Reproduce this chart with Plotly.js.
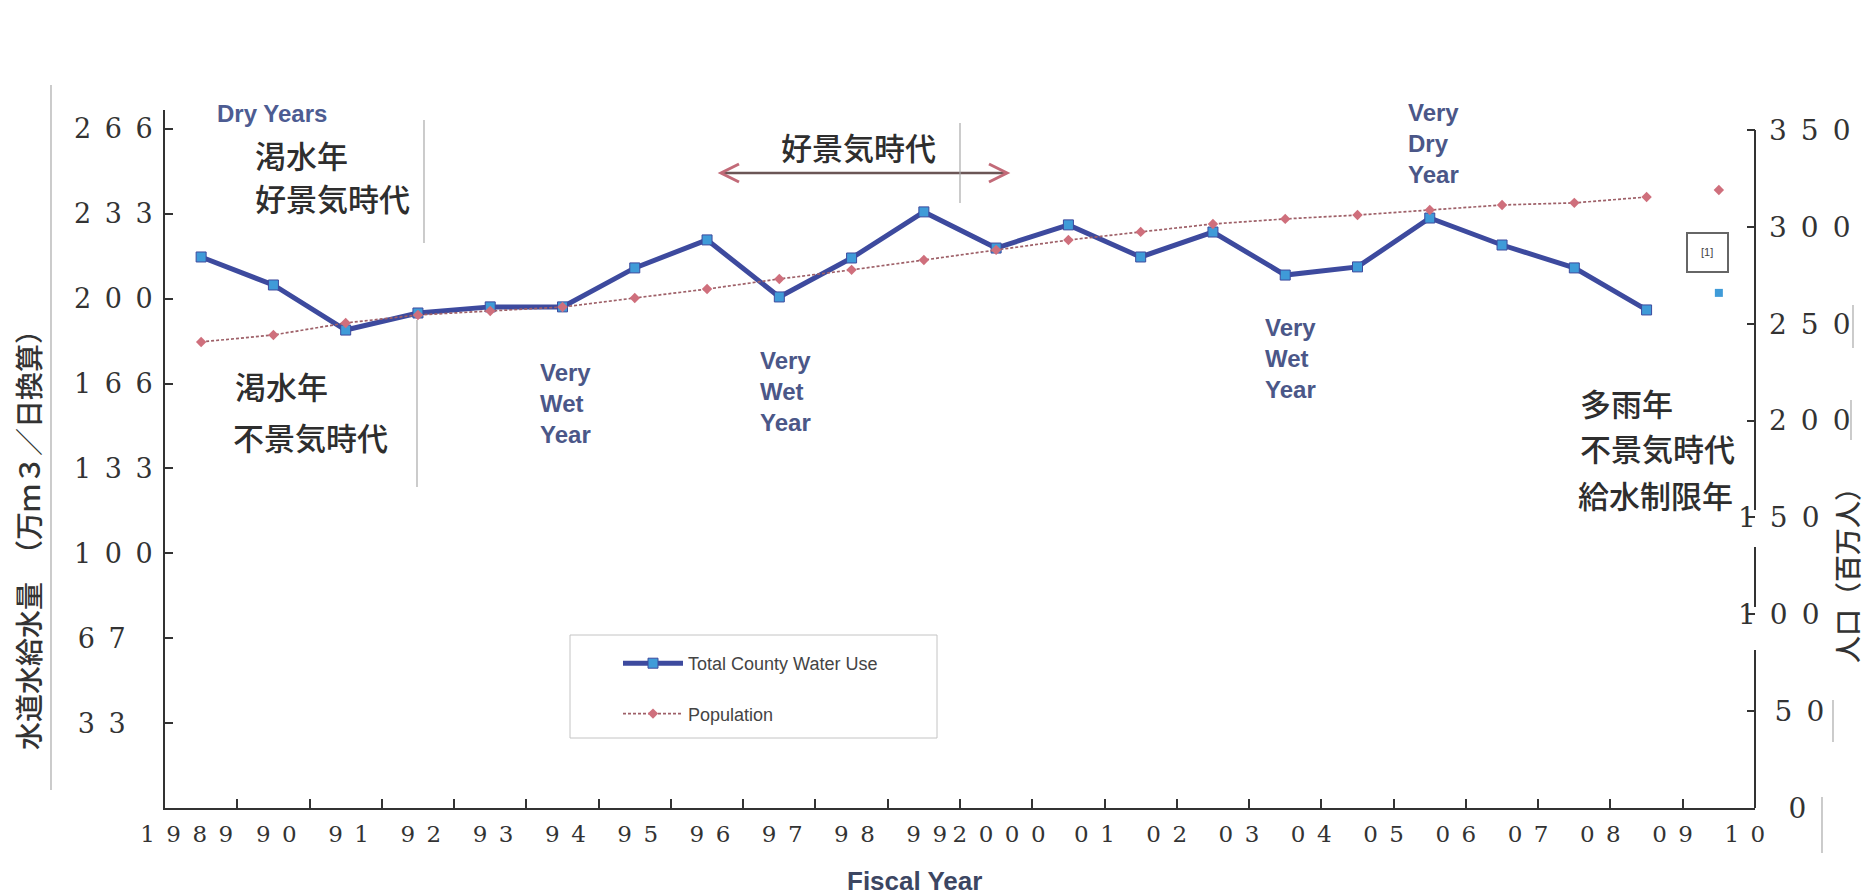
<!DOCTYPE html>
<html>
<head>
<meta charset="utf-8">
<script src="https://cdn.plot.ly/plotly-3.0.1.min.js"></script>
<style>
html,body{margin:0;padding:0;background:#ffffff;}
#chart{width:1865px;height:896px;}
</style>
</head>
<body>
<div id="chart"></div>
<script>
// ---------------- DATA ----------------
const fiscalYears = ['1989','1990','1991','1992','1993','1994','1995','1996','1997','1998','1999',
                     '2000','2001','2002','2003','2004','2005','2006','2007','2008','2009','2010'];
const E = '\u2002';
const tickLabels = ['1'+E+'9'+E+'8'+E+'9','9'+E+'0','9'+E+'1','9'+E+'2','9'+E+'3','9'+E+'4','9'+E+'5',
                    '9'+E+'6','9'+E+'7','9'+E+'8','9'+E+'9','2'+E+'0'+E+'0'+E+'0','0'+E+'1','0'+E+'2',
                    '0'+E+'3','0'+E+'4','0'+E+'5','0'+E+'6','0'+E+'7','0'+E+'8','0'+E+'9','1'+E+'0'];
// Total County Water Use, 1989-2009 (connected line), left axis
const waterUse = [216.4, 205.4, 187.7, 194.4, 196.8, 196.8, 212.1, 223.1, 200.7, 216.0, 234.1,
                  219.9, 229.0, 216.4, 226.2, 209.3, 212.5, 231.7, 221.1, 212.1, 195.6];
// Population, 1989-2009 (connected line), right axis
const population = [240.6, 244.2, 250.4, 254.5, 256.6, 258.6, 263.3, 267.9, 273.1, 277.8, 282.9,
                    288.1, 293.2, 297.4, 301.5, 304.1, 306.1, 308.7, 311.3, 312.4, 315.4];
// isolated 2010 points
const waterUse2010 = [202.3];
const population2010 = [319.0];
const leftTickValues = [33.333, 66.667, 100, 133.333, 166.667, 200, 233.333, 266.667];
const leftTickLabels = ['3'+E+'3'+E+E, '6'+E+'7'+E+E, '1'+E+'0'+E+'0', '1'+E+'3'+E+'3',
                        '1'+E+'6'+E+'6', '2'+E+'0'+E+'0', '2'+E+'3'+E+'3', '2'+E+'6'+E+'6'];
const rightTickValues = [0, 50, 100, 150, 200, 250, 300, 350];
const rightTickLabels = [E+'\u2009'+'0', '\u2009'+'5'+E+'0', '1'+E+'0'+E+'0', '1'+E+'5'+E+'0',
                         '2'+E+'0'+E+'0', '2'+E+'5'+E+'0', '3'+E+'0'+E+'0', '3'+E+'5'+E+'0'];
// right-axis labels that sit further left (over the axis line) in the original
const rightShiftedValues = [100, 150];

// ---------------- LAYOUT HELPERS ----------------
const L = 165, R = 1755, T = 110, B = 808;
const PX = x => (x - L) / (R - L);
const PY = y => (B - y) / (B - T);
const idx = fiscalYears.map((_, i) => i);
const mainIdx = idx.slice(0, waterUse.length);
const lastIdx = [idx[idx.length - 1]];
const labelPos = idx.map(i => i + (i === 0 ? -0.2 : (i >= 12 ? 0.36 : 0.04)));
const boundaries = idx.slice(0, idx.length - 1).map(i => i + 0.5);
const y2Text = rightTickValues.map((v, i) => rightShiftedValues.includes(v) ? '' : rightTickLabels[i]);
const y3Vals = rightTickValues.filter(v => rightShiftedValues.includes(v));
const y3Text = rightTickLabels.filter((t, i) => rightShiftedValues.includes(rightTickValues[i]));

const SANS = 'Liberation Sans, Arial, sans-serif';
const SERIF = 'DejaVu Serif, serif';
const CJK = 'Noto Sans CJK JP, sans-serif';
const NOTE_BLUE = '#4b5788';
const CJK_COL = '#2e2e2e';

function ann(text, x, y, o) {
  o = o || {};
  return Object.assign({
    text: text, xref: 'paper', yref: 'paper', x: PX(x), y: PY(y),
    xanchor: 'left', yanchor: 'middle', showarrow: false, align: 'left',
    font: {family: CJK, size: 31, color: CJK_COL, weight: 500}
  }, o);
}
const noteFont = {family: SANS, size: 24, color: NOTE_BLUE, weight: 'bold'};

const traces = [
  {
    x: mainIdx, y: waterUse, yaxis: 'y', type: 'scatter', mode: 'lines+markers',
    name: 'Total County Water Use', legendgroup: 'w', legendrank: 1,
    line: {color: '#3d4a9e', width: 5},
    marker: {symbol: 'square', size: 10, color: '#3f9bd8', line: {color: '#3d4a9e', width: 1}}
  },
  {
    x: lastIdx, y: waterUse2010, yaxis: 'y', type: 'scatter', mode: 'markers', showlegend: false,
    legendgroup: 'w', marker: {symbol: 'square', size: 8, color: '#3f9bd8'}
  },
  {
    x: mainIdx, y: population, yaxis: 'y2', type: 'scatter', mode: 'lines+markers',
    name: 'Population', legendgroup: 'p', legendrank: 2,
    line: {color: '#9e6068', width: 1.7, dash: '3px,2px'},
    marker: {symbol: 'diamond', size: 8, color: '#cf6f7c'}
  },
  {
    x: lastIdx, y: population2010, yaxis: 'y2', type: 'scatter', mode: 'markers', showlegend: false,
    legendgroup: 'p', marker: {symbol: 'diamond', size: 8, color: '#cf6f7c'}
  },
  // carrier for the third (label-only) right axis
  {x: [], y: [], yaxis: 'y3', type: 'scatter', mode: 'markers', showlegend: false, hoverinfo: 'skip'}
];

const gray = {color: '#a9a9a9', width: 1.2};
const axisLine = {color: '#333333', width: 2};
const layout = {
  width: 1865, height: 896,
  margin: {l: L, r: 1865 - R, t: T, b: 896 - B, pad: 0},
  paper_bgcolor: '#ffffff', plot_bgcolor: '#ffffff',
  showlegend: true,
  legend: {
    x: PX(618), y: PY(645), xanchor: 'left', yanchor: 'top',
    bgcolor: 'rgba(0,0,0,0)', borderwidth: 0,
    font: {family: SANS, size: 18, color: '#444444'},
    tracegroupgap: 24, traceorder: 'grouped', itemwidth: 60
  },
  xaxis: {
    range: [-0.5, 21.5], showgrid: false, zeroline: false,
    showline: true, linecolor: '#333333', linewidth: 2,
    tickmode: 'array', tickvals: labelPos, ticktext: tickLabels, ticks: '',
    tickfont: {family: SERIF, size: 23, color: '#333333'},
    ticklabelstandoff: 4,
    minor: {tickmode: 'array', tickvals: boundaries, ticks: 'inside', ticklen: 9,
            tickwidth: 2, tickcolor: '#333333', showgrid: false}
  },
  yaxis: {
    range: [0, 274.12], showgrid: false, zeroline: false,
    showline: true, linecolor: '#333333', linewidth: 2,
    tickmode: 'array', tickvals: leftTickValues, ticktext: leftTickLabels,
    ticks: 'inside', ticklen: 8, tickwidth: 2, tickcolor: '#333333',
    tickfont: {family: SERIF, size: 27, color: '#333333'},
    ticklabelstandoff: 5
  },
  yaxis2: {
    overlaying: 'y', side: 'right', range: [0, 360.33],
    showgrid: false, zeroline: false, showline: false,
    tickmode: 'array', tickvals: rightTickValues, ticktext: y2Text,
    ticks: 'inside', ticklen: 8, tickwidth: 2, tickcolor: '#333333',
    tickfont: {family: SERIF, size: 28, color: '#333333'},
    ticklabelstandoff: 13
  },
  yaxis3: {
    overlaying: 'y', side: 'right', range: [0, 360.33],
    showgrid: false, zeroline: false, showline: false,
    tickmode: 'array', tickvals: y3Vals, ticktext: y3Text, ticks: '',
    tickfont: {family: SERIF, size: 28, color: '#333333'},
    ticklabelstandoff: -18
  },
  shapes: [
    // right axis line (0 .. 350), interrupted where the 100 / 150 labels sit
    {type: 'line', xref: 'paper', yref: 'y2', x0: 1, x1: 1, y0: 0, y1: 81.6, line: axisLine},
    {type: 'line', xref: 'paper', yref: 'y2', x0: 1, x1: 1, y0: 103.8, y1: 134.7, line: axisLine},
    {type: 'line', xref: 'paper', yref: 'y2', x0: 1, x1: 1, y0: 153.8, y1: 350, line: axisLine},
    // legend box
    {type: 'rect', xref: 'paper', yref: 'paper', x0: PX(570), x1: PX(937), y0: PY(635), y1: PY(738),
     line: {color: '#c4c4c4', width: 1}, fillcolor: '#ffffff', layer: 'below'},
    // [1] box
    {type: 'rect', xref: 'paper', yref: 'paper', x0: PX(1687), x1: PX(1728), y0: PY(233), y1: PY(272),
     line: {color: '#666666', width: 2}},
    // double arrow (好景気時代)
    {type: 'line', xref: 'paper', yref: 'paper', x0: PX(722), x1: PX(1005), y0: PY(173), y1: PY(173),
     line: {color: '#6b5656', width: 2.5}},
    {type: 'path', xref: 'paper', yref: 'paper',
     path: 'M ' + PX(739) + ' ' + PY(164) + ' L ' + PX(721) + ' ' + PY(173) + ' L ' + PX(739) + ' ' + PY(182),
     line: {color: '#c26a78', width: 3}},
    {type: 'path', xref: 'paper', yref: 'paper',
     path: 'M ' + PX(989) + ' ' + PY(164) + ' L ' + PX(1007) + ' ' + PY(173) + ' L ' + PX(989) + ' ' + PY(182),
     line: {color: '#c26a78', width: 3}},
    // faint frame lines of the scanned page
    {type: 'line', xref: 'paper', yref: 'paper', x0: PX(424), x1: PX(424), y0: PY(120), y1: PY(243), line: gray},
    {type: 'line', xref: 'paper', yref: 'paper', x0: PX(417), x1: PX(417), y0: PY(320), y1: PY(487), line: gray},
    {type: 'line', xref: 'paper', yref: 'paper', x0: PX(960), x1: PX(960), y0: PY(123), y1: PY(203), line: gray},
    {type: 'line', xref: 'paper', yref: 'paper', x0: PX(51), x1: PX(51), y0: PY(85), y1: PY(790), line: gray},
    {type: 'line', xref: 'paper', yref: 'paper', x0: PX(1853), x1: PX(1853), y0: PY(305), y1: PY(348), line: gray},
    {type: 'line', xref: 'paper', yref: 'paper', x0: PX(1851), x1: PX(1851), y0: PY(400), y1: PY(440), line: gray},
    {type: 'line', xref: 'paper', yref: 'paper', x0: PX(1833), x1: PX(1833), y0: PY(700), y1: PY(742), line: gray},
    {type: 'line', xref: 'paper', yref: 'paper', x0: PX(1822), x1: PX(1822), y0: PY(797), y1: PY(853), line: gray}
  ],
  annotations: [
    ann('Dry Years', 215, 114, {font: {family: SANS, size: 24, color: '#4d5c92', weight: 'bold'}}),
    ann('渇水年', 253, 154),
    ann('好景気時代', 253, 197),
    ann('渇水年', 233, 385),
    ann('不景気時代', 231, 437),
    ann('Very<br>Wet<br>Year', 538, 403, {font: noteFont}),
    ann('Very<br>Wet<br>Year', 758, 391, {font: noteFont}),
    ann('Very<br>Wet<br>Year', 1263, 358, {font: noteFont}),
    ann('Very<br>Dry<br>Year', 1406, 143, {font: noteFont}),
    ann('好景気時代', 858, 146, {xanchor: 'center'}),
    ann('多雨年', 1578, 402),
    ann('不景気時代', 1578, 447),
    ann('給水制限年', 1576, 494),
    ann('[1]', 1707, 252, {xanchor: 'center', font: {family: SANS, size: 11, color: '#444444'}}),
    ann('水道水給水量　（万ｍ３／日換算）', 28, 533,
        {xanchor: 'center', textangle: -90, font: {family: CJK, size: 28, color: '#333333', weight: 500}}),
    ann('人口（百万人）', 1846, 569,
        {xanchor: 'center', textangle: -90, font: {family: CJK, size: 27, color: '#333333', weight: 500}}),
    ann('Fiscal Year', 914, 881,
        {xanchor: 'center', font: {family: SANS, size: 26, color: '#3c4662', weight: 'bold'}})
  ]
};

Plotly.newPlot('chart', traces, layout, {displayModeBar: false, staticPlot: true});
</script>
</body>
</html>
